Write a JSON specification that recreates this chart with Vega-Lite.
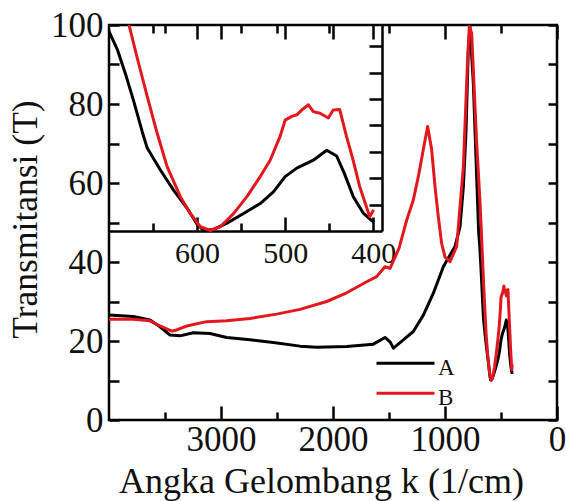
{
  "$schema": "https://vega.github.io/schema/vega-lite/v6.json",
  "width": 448,
  "height": 395,
  "autosize": {"type": "none"},
  "padding": {"left": 109, "top": 25, "right": 9, "bottom": 81},
  "background": "white",
  "config": {
    "view": {"stroke": "#000000", "strokeWidth": 2.5},
    "font": "Liberation Serif",
    "axis": {
      "labelFont": "Liberation Serif",
      "titleFont": "Liberation Serif",
      "labelColor": "#111111",
      "titleColor": "#111111",
      "domainColor": "#000000",
      "domainWidth": 2.5,
      "gridColor": "#000000",
      "gridWidth": 2.5,
      "gridOpacity": 1,
      "gridCap": "butt",
      "ticks": false,
      "titleFontWeight": "normal",
      "labelFontSize": 35,
      "titleFontSize": 36,
      "labelOverlap": false,
      "labelFlush": false
    }
  },
  "datasets": {
    "spectra": [
      {"series": "A", "k": 4000, "T": 26.6},
      {"series": "A", "k": 3783, "T": 26.2},
      {"series": "A", "k": 3634, "T": 25.3},
      {"series": "A", "k": 3545, "T": 23.6},
      {"series": "A", "k": 3455, "T": 21.5},
      {"series": "A", "k": 3366, "T": 21.3},
      {"series": "A", "k": 3247, "T": 22.1},
      {"series": "A", "k": 3098, "T": 21.9},
      {"series": "A", "k": 2949, "T": 20.9},
      {"series": "A", "k": 2741, "T": 20.3},
      {"series": "A", "k": 2533, "T": 19.6},
      {"series": "A", "k": 2295, "T": 18.7},
      {"series": "A", "k": 2146, "T": 18.4},
      {"series": "A", "k": 1878, "T": 18.6},
      {"series": "A", "k": 1640, "T": 19.2},
      {"series": "A", "k": 1536, "T": 20.9},
      {"series": "A", "k": 1491, "T": 19.8},
      {"series": "A", "k": 1461, "T": 18.2},
      {"series": "A", "k": 1372, "T": 20.3},
      {"series": "A", "k": 1283, "T": 22.4},
      {"series": "A", "k": 1194, "T": 26.5},
      {"series": "A", "k": 1104, "T": 32.1},
      {"series": "A", "k": 1015, "T": 38.8},
      {"series": "A", "k": 955, "T": 41.8},
      {"series": "A", "k": 911, "T": 43.9},
      {"series": "A", "k": 866, "T": 48.9},
      {"series": "A", "k": 836, "T": 59.1},
      {"series": "A", "k": 813, "T": 72.6},
      {"series": "A", "k": 792, "T": 93.7},
      {"series": "A", "k": 777, "T": 99.6},
      {"series": "A", "k": 747, "T": 85.2},
      {"series": "A", "k": 700, "T": 47.8},
      {"series": "A", "k": 690.6, "T": 44.4},
      {"series": "A", "k": 681, "T": 39.6},
      {"series": "A", "k": 671.8, "T": 34.5},
      {"series": "A", "k": 662.3, "T": 28.8},
      {"series": "A", "k": 656.6, "T": 25.7},
      {"series": "A", "k": 641.5, "T": 21.5},
      {"series": "A", "k": 626.5, "T": 17.7},
      {"series": "A", "k": 611.3, "T": 14.3},
      {"series": "A", "k": 600, "T": 11.3},
      {"series": "A", "k": 592.5, "T": 10.1},
      {"series": "A", "k": 581.2, "T": 10.3},
      {"series": "A", "k": 566, "T": 11.5},
      {"series": "A", "k": 547.2, "T": 13.3},
      {"series": "A", "k": 528.3, "T": 15.2},
      {"series": "A", "k": 513.3, "T": 17.4},
      {"series": "A", "k": 500, "T": 20.3},
      {"series": "A", "k": 486.8, "T": 21.9},
      {"series": "A", "k": 468, "T": 23.4},
      {"series": "A", "k": 452.8, "T": 25.3},
      {"series": "A", "k": 441.5, "T": 24.2},
      {"series": "A", "k": 433, "T": 21.0},
      {"series": "A", "k": 422.6, "T": 16.5},
      {"series": "A", "k": 411.3, "T": 13.4},
      {"series": "A", "k": 402, "T": 12.0},
      {"series": "A", "k": 399, "T": 11.7},
      {"series": "B", "k": 4000, "T": 25.5},
      {"series": "B", "k": 3783, "T": 25.5},
      {"series": "B", "k": 3634, "T": 25.1},
      {"series": "B", "k": 3545, "T": 23.8},
      {"series": "B", "k": 3440, "T": 22.5},
      {"series": "B", "k": 3396, "T": 22.8},
      {"series": "B", "k": 3307, "T": 23.8},
      {"series": "B", "k": 3128, "T": 24.9},
      {"series": "B", "k": 2949, "T": 25.1},
      {"series": "B", "k": 2741, "T": 25.7},
      {"series": "B", "k": 2503, "T": 26.8},
      {"series": "B", "k": 2295, "T": 28.0},
      {"series": "B", "k": 2056, "T": 30.0},
      {"series": "B", "k": 1878, "T": 32.2},
      {"series": "B", "k": 1699, "T": 35.0},
      {"series": "B", "k": 1610, "T": 36.3},
      {"series": "B", "k": 1536, "T": 38.8},
      {"series": "B", "k": 1491, "T": 38.4},
      {"series": "B", "k": 1410, "T": 43.5},
      {"series": "B", "k": 1342, "T": 50.6},
      {"series": "B", "k": 1283, "T": 55.7},
      {"series": "B", "k": 1238, "T": 61.6},
      {"series": "B", "k": 1194, "T": 68.4},
      {"series": "B", "k": 1155, "T": 74.3},
      {"series": "B", "k": 1119, "T": 68.4},
      {"series": "B", "k": 1089, "T": 59.1},
      {"series": "B", "k": 1060, "T": 51.5},
      {"series": "B", "k": 1030, "T": 44.7},
      {"series": "B", "k": 1000, "T": 41.3},
      {"series": "B", "k": 955, "T": 40.1},
      {"series": "B", "k": 896, "T": 43.9},
      {"series": "B", "k": 836, "T": 64.1},
      {"series": "B", "k": 801, "T": 89.4},
      {"series": "B", "k": 783, "T": 99.6},
      {"series": "B", "k": 762, "T": 97.9},
      {"series": "B", "k": 717, "T": 70.0},
      {"series": "B", "k": 690, "T": 56.5},
      {"series": "B", "k": 677.4, "T": 49.1},
      {"series": "B", "k": 668, "T": 42.8},
      {"series": "B", "k": 656.6, "T": 35.5},
      {"series": "B", "k": 645.3, "T": 28.5},
      {"series": "B", "k": 634, "T": 22.2},
      {"series": "B", "k": 619, "T": 16.5},
      {"series": "B", "k": 607.6, "T": 13.3},
      {"series": "B", "k": 596.3, "T": 10.8},
      {"series": "B", "k": 585, "T": 10.1},
      {"series": "B", "k": 573.6, "T": 10.8},
      {"series": "B", "k": 558.6, "T": 13.3},
      {"series": "B", "k": 543.4, "T": 16.5},
      {"series": "B", "k": 528.3, "T": 20.3},
      {"series": "B", "k": 517, "T": 23.4},
      {"series": "B", "k": 505.7, "T": 27.9},
      {"series": "B", "k": 500, "T": 31.0},
      {"series": "B", "k": 492.5, "T": 31.7},
      {"series": "B", "k": 486.8, "T": 32.0},
      {"series": "B", "k": 481.1, "T": 32.9},
      {"series": "B", "k": 473.6, "T": 33.9},
      {"series": "B", "k": 468, "T": 32.6},
      {"series": "B", "k": 460.4, "T": 32.3},
      {"series": "B", "k": 451, "T": 31.4},
      {"series": "B", "k": 445.4, "T": 32.9},
      {"series": "B", "k": 438, "T": 33.0},
      {"series": "B", "k": 430.3, "T": 27.9},
      {"series": "B", "k": 422.8, "T": 23.4},
      {"series": "B", "k": 415.3, "T": 18.4},
      {"series": "B", "k": 407.7, "T": 14.6},
      {"series": "B", "k": 404, "T": 12.7},
      {"series": "B", "k": 399.5, "T": 14.0}
    ]
  },
  "data": {"name": "spectra"},
  "layer": [
    {
      "layer": [
        {
          "transform": [{"filter": "datum.series === 'A'"}],
          "mark": {"type": "line", "strokeWidth": 3, "strokeJoin": "round"},
          "encoding": {
            "x": {
              "field": "k", "type": "quantitative",
              "scale": {"domain": [4000, 0], "nice": false, "zero": false},
              "axis": {
                "orient": "bottom",
                "values": [0, 500, 1000, 1500, 2000, 2500, 3000, 3500],
                "format": "d",
                "labelExpr": "datum.value % 1000 === 0 ? datum.label : ''",
                "domain": false,
                "ticks": false,
                "labelPadding": 30,
                "labelBaseline": "alphabetic",
                "grid": true,
                "gridDash": {"condition": {"test": "datum.value % 1000 === 0", "value": [14, 367, 14, 400]}, "value": [8, 379, 8, 400]},
                "title": "Angka Gelombang k (1/cm)",
                "titleX": 212,
                "titleY": 72,
                "titleAngle": 0,
                "titleBaseline": "alphabetic",
                "titleAlign": "center"
              }
            },
            "y": {
              "field": "T", "type": "quantitative",
              "scale": {"domain": [0, 100], "nice": false, "zero": false},
              "axis": {
                "orient": "left",
                "values": [0, 10, 20, 30, 40, 50, 60, 70, 80, 90, 100],
                "format": "d",
                "labelExpr": "datum.value % 20 === 0 ? datum.label : ''",
                "domain": false,
                "ticks": false,
                "labelPadding": 6,
                "labelBaseline": "middle",
                "grid": true,
                "gridDash": [10, 429, 9, 400],
                "title": "Transmitansi (T)",
                "titleFontSize": 35.5,
                "titleX": -84,
                "titleY": 194,
                "titleAngle": 270,
                "titleBaseline": "middle",
                "titleAlign": "center"
              }
            },
            "color": {
              "field": "series", "type": "nominal",
              "scale": {"domain": ["A", "B"], "range": ["#000000", "#e3171e"]},
              "legend": {
                "orient": "none",
                "legendX": 266,
                "legendY": 335,
                "title": null,
                "symbolType": "M-1,-0.15H1",
                "symbolSize": 3364,
                "symbolStrokeWidth": 3,
                "labelFont": "Liberation Serif",
                "labelFontSize": 23,
                "labelColor": "#111111",
                "labelOffset": 2,
                "rowPadding": 6,
                "padding": 0,
                "clipHeight": 15
              }
            }
          }
        },
        {
          "transform": [{"filter": "datum.series === 'B'"}],
          "mark": {"type": "line", "strokeWidth": 3, "strokeJoin": "round"},
          "encoding": {
            "x": {
              "field": "k", "type": "quantitative",
              "scale": {"domain": [4000, 0], "nice": false, "zero": false},
              "axis": null
            },
            "y": {
              "field": "T", "type": "quantitative",
              "scale": {"domain": [0, 100], "nice": false, "zero": false},
              "axis": null
            },
            "color": {
              "field": "series", "type": "nominal",
              "scale": {"domain": ["A", "B"], "range": ["#000000", "#e3171e"]}
            }
          }
        }
      ],
      "resolve": {"axis": {"x": "independent", "y": "independent"}}
    },
    {
      "layer": [
        {
          "transform": [{"filter": "datum.series === 'A' && datum.k <= 800"}],
          "mark": {"type": "line", "strokeWidth": 3, "strokeJoin": "round", "clip": true},
          "encoding": {
            "x": {
              "field": "k", "type": "quantitative",
              "scale": {"domain": [700, 390], "range": [0, 273], "nice": false, "zero": false},
              "axis": {
                "orient": "top",
                "offset": -206,
                "values": [400, 450, 500, 550, 600, 650],
                "format": "d",
                "labelExpr": "datum.value % 100 === 0 ? datum.label : ''",
                "domain": true,
                "ticks": false,
                "labelPadding": -31.5,
                "labelBaseline": "alphabetic",
                "labelFontSize": 30,
                "grid": true,
                "gridDash": {"condition": {"test": "datum.value % 100 === 0", "value": [14, 178, 14, 300]}, "value": [8, 190, 8, 300]},
                "title": null
              }
            },
            "y": {
              "field": "T", "type": "quantitative",
              "scale": {"domain": [10, 49], "range": [206, 0], "nice": false, "zero": false},
              "axis": {
                "orient": "left",
                "offset": -273,
                "values": [15, 20, 25, 30, 35, 40, 45],
                "labels": false,
                "domain": true,
                "ticks": false,
                "grid": true,
                "gridDash": [0, 260, 13, 300],
                "title": null
              }
            },
            "color": {
              "field": "series", "type": "nominal",
              "scale": {"domain": ["A", "B"], "range": ["#000000", "#e3171e"]}
            }
          }
        },
        {
          "transform": [{"filter": "datum.series === 'B' && datum.k <= 800"}],
          "mark": {"type": "line", "strokeWidth": 3, "strokeJoin": "round", "clip": true},
          "encoding": {
            "x": {
              "field": "k", "type": "quantitative",
              "scale": {"domain": [700, 390], "range": [0, 273], "nice": false, "zero": false},
              "axis": null
            },
            "y": {
              "field": "T", "type": "quantitative",
              "scale": {"domain": [10, 49], "range": [206, 0], "nice": false, "zero": false},
              "axis": null
            },
            "color": {
              "field": "series", "type": "nominal",
              "scale": {"domain": ["A", "B"], "range": ["#000000", "#e3171e"]}
            }
          }
        }
      ],
      "resolve": {"axis": {"x": "independent", "y": "independent"}}
    }
  ],
  "resolve": {
    "scale": {"x": "independent", "y": "independent"},
    "axis": {"x": "independent", "y": "independent"}
  }
}
